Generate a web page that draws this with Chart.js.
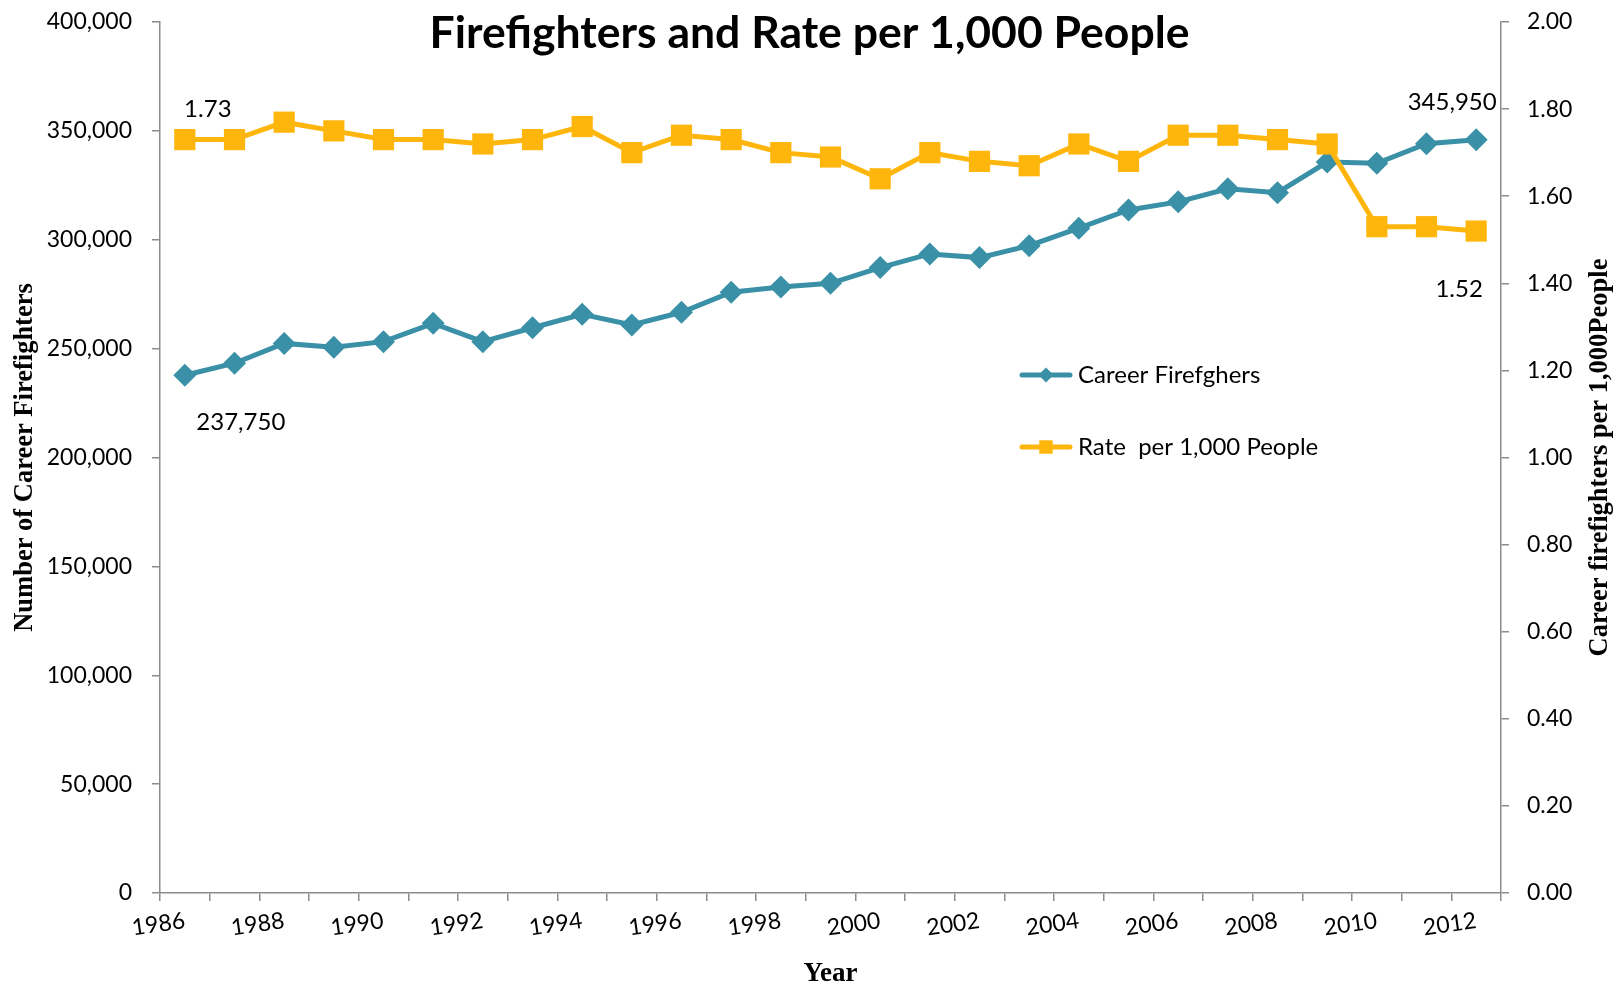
<!DOCTYPE html>
<html>
<head>
<meta charset="utf-8">
<title>Firefighters and Rate per 1,000 People</title>
<script src="https://cdn.jsdelivr.net/npm/chart.js@4.4.0/dist/chart.umd.min.js"></script>
<style>
  html, body { margin: 0; padding: 0; background: #fff; }
  #wrap { width: 1623px; height: 990px; }
</style>
</head>
<body>
<div id="wrap"><canvas id="myChart" width="1623" height="990"></canvas></div>
<script>
var years = ['1986', '1987', '1988', '1989', '1990', '1991', '1992', '1993', '1994',
    '1995', '1996', '1997', '1998', '1999', '2000', '2001', '2002', '2003', '2004',
    '2005', '2006', '2007', '2008', '2009', '2010', '2011', '2012'];
var shownYears = ['1986', '1988', '1990', '1992', '1994', '1996', '1998',
    '2000', '2002', '2004', '2006', '2008', '2010', '2012'];
var careerFirefighters = [237750, 243300, 252400, 250600, 253200, 261600, 253200,
    259600, 265800, 260850, 266700, 275900, 278300, 280000, 287200, 293500, 291800,
    297300, 305300, 313700, 317400, 323400, 321600, 335700, 335100, 344100, 345950];
var ratePer1000 = [1.73, 1.73, 1.77, 1.75, 1.73, 1.73, 1.72, 1.73, 1.76, 1.70, 1.74,
    1.73, 1.70, 1.69, 1.64, 1.70, 1.68, 1.67, 1.72, 1.68, 1.74, 1.74, 1.73, 1.72,
    1.53, 1.53, 1.52];
var leftTicks = [0, 50000, 100000, 150000, 200000, 250000, 300000, 350000, 400000];
var rightTicks = [0, 0.2, 0.4, 0.6, 0.8, 1.0, 1.2, 1.4, 1.6, 1.8, 2.0];

var teal = '#3A90A6';
var gold = '#FFB60C';
var axisGray = '#8C8C8C';
var sans = 'Lato';
var serif = 'Liberation Serif';

Chart.defaults.color = '#000';
Chart.defaults.font.family = sans;

function withCommas(v) {
    return v.toString().replace(/\B(?=(\d{3})+(?!\d))/g, ',');
}

// title, right axis title, legend and the four value labels
var extrasPlugin = {
    id: 'extras',
    afterDraw: function (chart) {
        var ctx = chart.ctx;
        var area = chart.chartArea;
        ctx.save();

        ctx.fillStyle = '#000';
        ctx.textAlign = 'center';
        ctx.textBaseline = 'middle';
        ctx.font = 'bold 44.5px ' + sans;
        ctx.fillText('Firefighters and Rate per 1,000 People', chart.width / 2 - 2, 34);

        ctx.save();
        ctx.translate(chart.width - 23, (area.top + area.bottom) / 2);
        ctx.rotate(-Math.PI / 2);
        ctx.font = 'bold 26.5px "' + serif + '"';
        ctx.fillText('Career firefighters per 1,000People', 0, 0);
        ctx.restore();

        // legend
        var rows = [
            {text: 'Career Firefghers', color: teal, style: 'rectRot', r: 7.5, y: 375},
            {text: 'Rate  per 1,000 People', color: gold, style: 'rect', r: 9.5, y: 447}
        ];
        rows.forEach(function (row) {
            ctx.strokeStyle = row.color;
            ctx.lineWidth = 5;
            ctx.lineCap = 'round';
            ctx.beginPath();
            ctx.moveTo(1022, row.y);
            ctx.lineTo(1070, row.y);
            ctx.stroke();
            ctx.fillStyle = row.color;
            Chart.helpers.drawPoint(ctx, {pointStyle: row.style, radius: row.r, rotation: 0, borderWidth: 0}, 1046, row.y);
            ctx.fillStyle = '#000';
            ctx.textAlign = 'left';
            ctx.font = '24px ' + sans;
            ctx.fillText(row.text, 1078, row.y);
        });

        // value labels at the first and last points
        var ffPts = chart.getDatasetMeta(0).data;
        var ratePts = chart.getDatasetMeta(1).data;
        var last = years.length - 1;
        ctx.textAlign = 'center';
        ctx.font = '24px ' + sans;
        ctx.fillText(ratePer1000[0].toFixed(2), ratePts[0].x + 23, ratePts[0].y - 30);
        ctx.fillText(withCommas(careerFirefighters[0]), ffPts[0].x + 56, ffPts[0].y + 47);
        ctx.fillText(withCommas(careerFirefighters[last]), ffPts[last].x - 24, ffPts[last].y - 37);
        ctx.fillText(ratePer1000[last].toFixed(2), ratePts[last].x - 17, ratePts[last].y + 58);
        ctx.restore();
    }
};

function fitVertical(width) {
    return function (s) {
        s.width = width;
        s.paddingTop = 0;
        s.paddingBottom = 0;
    };
}

var ctx = document.getElementById('myChart').getContext('2d');
var myChart = new Chart(ctx, {
    type: 'line',
    data: {
        labels: years,
        datasets: [{
            label: 'Career Firefghers',
            data: careerFirefighters,
            yAxisID: 'y',
            borderColor: teal,
            backgroundColor: teal,
            borderWidth: 5,
            pointStyle: 'rectRot',
            pointRadius: 11.5,
            pointBorderWidth: 0,
            tension: 0,
            order: 2
        }, {
            label: 'Rate  per 1,000 People',
            data: ratePer1000,
            yAxisID: 'y1',
            borderColor: gold,
            backgroundColor: gold,
            borderWidth: 5,
            pointStyle: 'rect',
            pointRadius: 15,
            pointBorderWidth: 0,
            tension: 0,
            order: 1
        }]
    },
    options: {
        responsive: false,
        animation: false,
        layout: {padding: {top: 22, left: 0, right: 0, bottom: 0}},
        plugins: {
            legend: {display: false},
            title: {display: false},
            tooltip: {enabled: false}
        },
        scales: {
            x: {
                type: 'category',
                offset: true,
                grid: {offset: true, drawOnChartArea: false, drawTicks: true, tickLength: 8, color: axisGray, lineWidth: 1.5},
                border: {display: true, color: axisGray, width: 1.5},
                ticks: {
                    autoSkip: false,
                    minRotation: 8,
                    maxRotation: 8,
                    padding: 6,
                    font: {size: 23},
                    callback: function (value, index) {
                        var y = years[index];
                        return shownYears.indexOf(y) >= 0 ? y : '';
                    }
                },
                title: {display: true, text: 'Year', font: {family: serif, weight: 'bold', size: 27}, padding: 0},
                afterFit: function (s) {
                    s.height = 97;
                    s.paddingLeft = 0;
                    s.paddingRight = 0;
                }
            },
            y: {
                position: 'left',
                min: leftTicks[0],
                max: leftTicks[leftTicks.length - 1],
                grid: {drawOnChartArea: false, drawTicks: true, tickLength: 8, color: axisGray, lineWidth: 1.5},
                border: {display: true, color: axisGray, width: 1.5},
                afterBuildTicks: function (s) {
                    s.ticks = leftTicks.map(function (v) { return {value: v}; });
                },
                ticks: {
                    padding: 20,
                    font: {size: 23},
                    callback: function (v) { return withCommas(v); }
                },
                title: {display: true, text: 'Number of Career Firefighters', font: {family: serif, weight: 'bold', size: 26.5}, padding: {top: 9, bottom: 0}},
                afterFit: fitVertical(160)
            },
            y1: {
                position: 'right',
                min: rightTicks[0],
                max: rightTicks[rightTicks.length - 1],
                grid: {drawOnChartArea: false, drawTicks: true, tickLength: 8, color: axisGray, lineWidth: 1.5},
                border: {display: true, color: axisGray, width: 1.5},
                afterBuildTicks: function (s) {
                    s.ticks = rightTicks.map(function (v) { return {value: v}; });
                },
                ticks: {
                    padding: 18,
                    font: {size: 23},
                    callback: function (v) { return Number(v).toFixed(2); }
                },
                afterFit: fitVertical(122)
            }
        }
    },
    plugins: [extrasPlugin]
});
</script>
</body>
</html>
